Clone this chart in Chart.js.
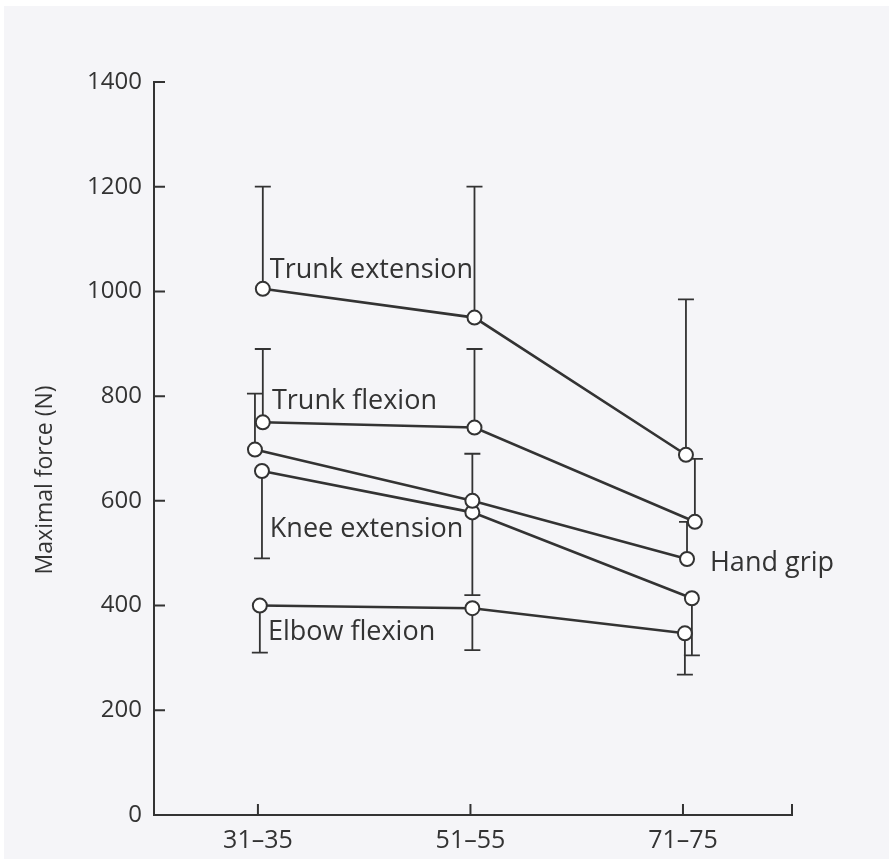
<!DOCTYPE html>
<html>
<head>
<meta charset="utf-8">
<script src="https://cdn.jsdelivr.net/npm/chart.js@4/dist/chart.umd.min.js"></script>
<style>
  html, body { margin: 0; padding: 0; background: #ffffff; }
  canvas { display: block; }
</style>
</head>
<body>
<canvas id="chart" width="889" height="859"></canvas>
<script>
// Age groups on the x axis
const ageGroups = ['31–35', '51–55', '71–75'];

// Mean maximal force (N) per age group
const trunkExtension = [1005, 950, 688];
const trunkFlexion   = [750, 740, 560];
const handGrip       = [698, 600, 489];
const kneeExtension  = [657, 578, 414];
const elbowFlexion   = [400, 395, 347];

// End of each one-sided error bar (N)
const trunkExtensionErr = [1200, 1200, 985];
const trunkFlexionErr   = [890, 890, 680];
const handGripErr       = [805, 690, 560];
const kneeExtensionErr  = [490, 420, 305];
const elbowFlexionErr   = [310, 315, 268];

// y-axis tick values
const yTicks = [0, 200, 400, 600, 800, 1000, 1200, 1400];

const INK = '#333333';
const FONT = "'Open Sans', 'DejaVu Sans', sans-serif";

// Small horizontal dodges keep overlapping error bars apart
const series = [
  { name: 'Trunk extension', values: trunkExtension, err: trunkExtensionErr,
    dodge: [0.023, 0.019, 0.014], tag: { x: 1.056, y: 1041 } },
  { name: 'Trunk flexion', values: trunkFlexion, err: trunkFlexionErr,
    dodge: [0.023, 0.019, 0.056], tag: { x: 1.066, y: 791 } },
  { name: 'Hand grip', values: handGrip, err: handGripErr,
    dodge: [-0.014, 0.009, 0.019], tag: { x: 3.127, y: 481 } },
  { name: 'Knee extension', values: kneeExtension, err: kneeExtensionErr,
    dodge: [0.019, 0.009, 0.042], tag: { x: 1.056, y: 546 } },
  { name: 'Elbow flexion', values: elbowFlexion, err: elbowFlexionErr,
    dodge: [0.009, 0.009, 0.009], tag: { x: 1.047, y: 348 } }
];

const datasets = series.map(s => ({
  label: s.name,
  data: s.values.map((v, i) => ({ x: i + 1 + s.dodge[i], y: v })),
  errEnd: s.err,
  tag: s.tag,
  borderColor: INK,
  borderWidth: 2.6,
  pointRadius: 7,
  pointHoverRadius: 7,
  pointBackgroundColor: '#ffffff',
  pointBorderColor: INK,
  pointBorderWidth: 2,
  tension: 0,
  clip: false
}));

// Paper-coloured background
const paper = {
  id: 'paper',
  beforeDraw(chart) {
    const { ctx, width, height } = chart;
    ctx.save();
    ctx.fillStyle = '#f5f5f8';
    ctx.fillRect(4, 6, width - 4, height - 6);
    ctx.restore();
  }
};

// One-sided error bars with caps, drawn under the markers
const errorBars = {
  id: 'errorBars',
  beforeDatasetsDraw(chart) {
    const { ctx, scales: { x, y } } = chart;
    ctx.save();
    ctx.strokeStyle = INK;
    ctx.lineWidth = 1.8;
    chart.data.datasets.forEach(ds => {
      ds.data.forEach((p, i) => {
        const px = x.getPixelForValue(p.x);
        const y0 = y.getPixelForValue(p.y);
        const y1 = y.getPixelForValue(ds.errEnd[i]);
        ctx.beginPath();
        ctx.moveTo(px, y0);
        ctx.lineTo(px, y1);
        ctx.moveTo(px - 8, y1);
        ctx.lineTo(px + 8, y1);
        ctx.stroke();
      });
    });
    ctx.restore();
  }
};

// Tick marks pointing into the plot, axis title and series names
const annotations = {
  id: 'annotations',
  afterDraw(chart) {
    const { ctx, chartArea, scales: { x, y } } = chart;
    ctx.save();
    ctx.strokeStyle = INK;
    ctx.lineWidth = 2;
    ctx.beginPath();
    yTicks.forEach(v => {
      if (v === 0) return;
      const py = y.getPixelForValue(v);
      ctx.moveTo(chartArea.left, py);
      ctx.lineTo(chartArea.left + 11, py);
    });
    [1, 2, 3].forEach(v => {
      const px = x.getPixelForValue(v);
      ctx.moveTo(px, chartArea.bottom);
      ctx.lineTo(px, chartArea.bottom - 11);
    });
    ctx.moveTo(chartArea.right, chartArea.bottom);
    ctx.lineTo(chartArea.right, chartArea.bottom - 11);
    ctx.stroke();

    ctx.fillStyle = INK;

    // y-axis title
    ctx.save();
    ctx.translate(45, y.getPixelForValue(640));
    ctx.rotate(-Math.PI / 2);
    ctx.font = '23px ' + FONT;
    ctx.textAlign = 'center';
    ctx.textBaseline = 'middle';
    ctx.fillText('Maximal force (N)', 0, 0);
    ctx.restore();

    ctx.font = '27px ' + FONT;
    ctx.textAlign = 'left';
    ctx.textBaseline = 'middle';
    chart.data.datasets.forEach(ds => {
      ctx.fillText(ds.label, x.getPixelForValue(ds.tag.x), y.getPixelForValue(ds.tag.y));
    });
    ctx.restore();
  }
};

new Chart(document.getElementById('chart'), {
  type: 'line',
  data: { datasets },
  options: {
    responsive: false,
    animation: false,
    events: [],
    layout: { padding: { top: 82, right: 97, left: 0, bottom: 0 } },
    plugins: {
      legend: { display: false },
      tooltip: { enabled: false }
    },
    scales: {
      x: {
        type: 'linear',
        min: 0.511,
        max: 3.513,
        afterBuildTicks(scale) {
          scale.ticks = [1, 2, 3].map(v => ({ value: v }));
        },
        afterFit(scale) { scale.height = 44; },
        grid: { display: true, drawOnChartArea: false, drawTicks: false },
        border: { display: true, color: INK, width: 2 },
        ticks: {
          color: INK,
          font: { family: FONT, size: 25 },
          padding: 11,
          maxRotation: 0,
          autoSkip: false,
          callback: v => ageGroups[Math.round(v) - 1]
        }
      },
      y: {
        type: 'linear',
        min: 0,
        max: 1400,
        afterBuildTicks(scale) {
          scale.ticks = yTicks.map(v => ({ value: v }));
        },
        afterFit(scale) { scale.width = 154; },
        grid: { display: true, drawOnChartArea: false, drawTicks: false },
        border: { display: true, color: INK, width: 2 },
        ticks: {
          color: INK,
          font: { family: FONT, size: 24 },
          padding: 12,
          autoSkip: false,
          callback: v => String(v)
        }
      }
    }
  },
  plugins: [paper, errorBars, annotations]
});
</script>
</body>
</html>
